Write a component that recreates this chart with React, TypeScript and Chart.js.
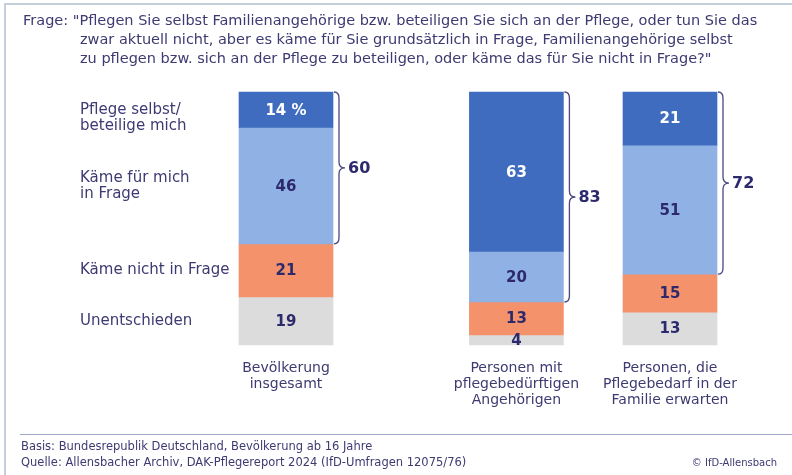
import React, { useEffect, useRef } from "react";
import { Chart, registerables } from "chart.js";

Chart.register(...registerables);

// ---- data ----
const categories: (string | string[])[] = [
  ["Bevölkerung", "insgesamt"],
  "",
  "",
  ["Personen mit", "pflegebedürftigen", "Angehörigen"],
  "",
  ["Personen, die", "Pflegebedarf in der", "Familie erwarten"],
];

const seriesNames: string[][] = [
  ["Pflege selbst/", "beteilige mich"],
  ["Käme für mich", "in Frage"],
  ["Käme nicht in Frage"],
  ["Unentschieden"],
];

const pflegeSelbst = [14, null, null, 63, null, 21];
const kaemeInFrage = [46, null, null, 20, null, 51];
const kaemeNichtInFrage = [21, null, null, 13, null, 15];
const unentschieden = [19, null, null, 4, null, 13];

const seriesColors = ["#3f6cbe", "#8fb1e3", "#f4926c", "#dcdcdc"];
const labelColors = ["#ffffff", "#2c2a6c", "#2c2a6c", "#2c2a6c"];

const titleLines = [
  'Frage: "Pflegen Sie selbst Familienangehörige bzw. beteiligen Sie sich an der Pflege, oder tun Sie das',
  "zwar aktuell nicht, aber es käme für Sie grundsätzlich in Frage, Familienangehörige selbst",
  'zu pflegen bzw. sich an der Pflege zu beteiligen, oder käme das für Sie nicht in Frage?"',
];

const footerLines = [
  "Basis: Bundesrepublik Deutschland, Bevölkerung ab 16 Jahre",
  "Quelle: Allensbacher Archiv, DAK-Pflegereport 2024 (IfD-Umfragen 12075/76)",
];
const copyright = "© IfD-Allensbach";

const FONT = "'DejaVu Sans', sans-serif";
const TEXT = "#3d3a72";
const NAVY = "#2c2a6c";

const overlay = {
  id: "overlay",
  afterDatasetsDraw(chart: any) {
    const ctx: CanvasRenderingContext2D = chart.ctx;
    const area = chart.chartArea;
    ctx.save();

    // value labels inside segments
    ctx.textAlign = "center";
    ctx.textBaseline = "middle";
    ctx.font = `bold 15px ${FONT}`;
    chart.data.datasets.forEach((ds: any, i: number) => {
      const meta = chart.getDatasetMeta(i);
      ds.data.forEach((v: number | null, j: number) => {
        if (v == null) return;
        const el: any = meta.data[j];
        const cy = (el.y + el.base) / 2;
        const txt = i === 0 && j === 0 ? `${v} %` : `${v}`;
        ctx.fillStyle = labelColors[i];
        ctx.fillText(txt, el.x, cy + 1);
      });
    });

    // row labels left of first bar
    ctx.textAlign = "left";
    ctx.font = `15px ${FONT}`;
    ctx.fillStyle = TEXT;
    const lh = 16;
    seriesNames.forEach((lines, i) => {
      const el: any = chart.getDatasetMeta(i).data[0];
      const cy = (el.y + el.base) / 2;
      let first = cy - ((lines.length - 1) * lh) / 2;
      if (first < area.top + 18) first = area.top + 18;
      lines.forEach((t, k) => ctx.fillText(t, 80, first + k * lh));
    });

    // braces with sums of the first two series
    ctx.strokeStyle = "#4a4782";
    ctx.lineWidth = 1.3;
    const d0 = chart.data.datasets[0].data;
    const d1 = chart.data.datasets[1].data;
    d0.forEach((v: number | null, j: number) => {
      if (v == null) return;
      const a: any = chart.getDatasetMeta(0).data[j];
      const b: any = chart.getDatasetMeta(1).data[j];
      const top = Math.min(a.y, a.base);
      const bottom = Math.max(b.y, b.base);
      const mid = (top + bottom) / 2;
      const x0 = a.x + a.width / 2 + 1;
      const xv = x0 + 5;
      const xt = x0 + 11;
      ctx.beginPath();
      ctx.moveTo(x0, top);
      ctx.quadraticCurveTo(xv, top, xv, top + 6);
      ctx.lineTo(xv, mid - 6);
      ctx.quadraticCurveTo(xv, mid, xt, mid);
      ctx.quadraticCurveTo(xv, mid, xv, mid + 6);
      ctx.lineTo(xv, bottom - 6);
      ctx.quadraticCurveTo(xv, bottom, x0, bottom);
      ctx.stroke();
      ctx.font = `bold 16px ${FONT}`;
      ctx.fillStyle = NAVY;
      ctx.textAlign = "left";
      ctx.fillText(String(v + (d1[j] as number)), xt + 3, mid + 1);
    });
    ctx.restore();
  },
  afterDraw(chart: any) {
    const ctx: CanvasRenderingContext2D = chart.ctx;
    const W = chart.width;
    const H = chart.height;
    ctx.save();
    // frame
    ctx.strokeStyle = "#c5cedb";
    ctx.lineWidth = 2;
    ctx.beginPath();
    ctx.moveTo(5, H);
    ctx.lineTo(5, 4);
    ctx.lineTo(W, 4);
    ctx.stroke();

    // title
    ctx.fillStyle = TEXT;
    ctx.font = `14.5px ${FONT}`;
    ctx.textBaseline = "middle";
    ctx.textAlign = "left";
    titleLines.forEach((t, k) => ctx.fillText(t, k === 0 ? 23 : 80, 21 + k * 19));

    // footer
    ctx.strokeStyle = "#9ea6cc";
    ctx.lineWidth = 1;
    ctx.beginPath();
    ctx.moveTo(20, 434.5);
    ctx.lineTo(W, 434.5);
    ctx.stroke();
    ctx.font = `11.5px ${FONT}`;
    footerLines.forEach((t, k) => ctx.fillText(t, 21, 447 + k * 16));
    ctx.font = `10px ${FONT}`;
    ctx.textAlign = "right";
    ctx.fillText(copyright, 777, 463);
    ctx.restore();
  },
};

export default function App() {
  const ref = useRef<HTMLCanvasElement>(null);
  useEffect(() => {
    document.body.style.margin = "0";
    const names = ["Pflege selbst", "Käme für mich in Frage", "Käme nicht in Frage", "Unentschieden"];
    const values = [pflegeSelbst, kaemeInFrage, kaemeNichtInFrage, unentschieden];
    const chart = new Chart(ref.current as HTMLCanvasElement, {
      type: "bar",
      data: {
        labels: categories as any,
        datasets: values.map((d, i) => ({
          label: names[i],
          data: d as any,
          backgroundColor: seriesColors[i],
          borderWidth: 0,
          barThickness: 94,
          skipNull: true,
          clip: false as any,
        })),
      },
      options: {
        animation: false,
        responsive: false,
        devicePixelRatio: 1,
        layout: { padding: { left: 247.6, right: 83.6, top: 92, bottom: 51.7 } },
        plugins: { legend: { display: false }, tooltip: { enabled: false }, title: { display: false } },
        scales: {
          x: {
            stacked: true,
            grid: { display: false, drawTicks: false },
            border: { display: false },
            ticks: {
              autoSkip: false,
              maxRotation: 0,
              minRotation: 0,
              padding: 15,
              color: TEXT,
              font: { family: FONT, size: 14, lineHeight: 1.15 },
            },
          },
          y: { stacked: true, min: 0, max: 100, reverse: true, display: false },
        },
      },
      plugins: [overlay],
    });
    return () => chart.destroy();
  }, []);
  return <canvas ref={ref} width={792} height={475} style={{ display: "block" }} />;
}
